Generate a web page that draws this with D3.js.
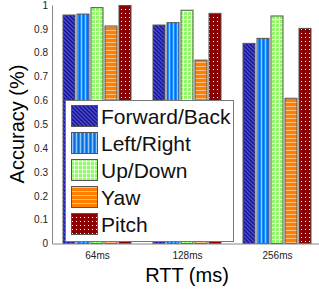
<!DOCTYPE html>
<html>
<head>
<meta charset="utf-8">
<script src="https://cdn.jsdelivr.net/npm/d3@7"></script>
<style>
  body { margin: 0; background: #fff; }
  svg { display: block; font-family: "Liberation Sans", Arial, sans-serif; }
</style>
</head>
<body>
<div id="chart"></div>
<script>
// data
var groups = ["64ms", "128ms", "256ms"];
var series = ["Forward/Back", "Left/Right", "Up/Down", "Yaw", "Pitch"];
var fwdBack   = [0.958, 0.916, 0.839];
var leftRight = [0.962, 0.926, 0.860];
var upDown    = [0.989, 0.978, 0.954];
var yaw       = [0.912, 0.769, 0.609];
var pitch     = [0.998, 0.965, 0.902];
var yTicks = [0, 0.1, 0.2, 0.3, 0.4, 0.5, 0.6, 0.7, 0.8, 0.9, 1];

var values = [fwdBack, leftRight, upDown, yaw, pitch];

var width = 319, height = 297;
var svg = d3.select("#chart").append("svg")
  .attr("width", width)
  .attr("height", height);

var defs = svg.append("defs");

// pattern fills
function pat(id, w, h, bg) {
  var p = defs.append("pattern")
    .attr("id", id)
    .attr("patternUnits", "userSpaceOnUse")
    .attr("width", w).attr("height", h);
  p.append("rect").attr("width", w).attr("height", h).attr("fill", bg);
  return p;
}
var p0 = pat("p0", 4, 4, "#16168a");
p0.append("path").attr("d", "M-1,-1 L5,5 M-1,3 L1,5 M3,-1 L5,1")
  .attr("stroke", "#4c4cd6").attr("stroke-width", 1.3);
var p1 = pat("p1", 4, 4, "#1e8cff");
p1.append("rect").attr("x", 1).attr("width", 1).attr("height", 4).attr("fill", "#8ccaff");
p1.append("rect").attr("x", 3).attr("width", 1).attr("height", 4).attr("fill", "#0a6cd8");
var p2 = pat("p2", 4, 4, "#96f56e");
p2.append("rect").attr("x", 3).attr("width", 1).attr("height", 4).attr("fill", "#e8ffe0");
p2.append("rect").attr("y", 3).attr("width", 4).attr("height", 1).attr("fill", "#e8ffe0");
var p3 = pat("p3", 4, 4, "#ff7f00");
p3.append("rect").attr("y", 2).attr("width", 4).attr("height", 1).attr("fill", "#ffbf80");
var p4 = pat("p4", 4, 4, "#8b0000");
p4.append("rect").attr("x", 1).attr("y", 1).attr("width", 1).attr("height", 1).attr("fill", "#fff");
var fills = ["url(#p0)", "url(#p1)", "url(#p2)", "url(#p3)", "url(#p4)"];

// scales: groups at 1,2,3, limits 0.5..3.5
var x = d3.scaleLinear().domain([0.5, 3.5]).range([52, 322]);
var y = d3.scaleLinear().domain([0, 1]).range([243.5, 5]);

var barW = 12, barStep = 14;

// bars
var rows = [];
groups.forEach(function(g, gi) {
  series.forEach(function(s, si) {
    rows.push({g: gi, s: si, v: values[si][gi]});
  });
});
svg.append("g").selectAll("rect")
  .data(rows)
  .enter().append("rect")
    .attr("x", function(d) { return x(d.g + 1) + (d.s - 2) * barStep - barW / 2; })
    .attr("y", function(d) { return y(d.v); })
    .attr("width", barW)
    .attr("height", function(d) { return y(0) - y(d.v); })
    .attr("fill", function(d) { return fills[d.s]; })
    .attr("stroke", "#555")
    .attr("stroke-width", 1);

// axes
var yAxis = svg.append("g")
  .attr("transform", "translate(52,0)")
  .call(d3.axisLeft(y).tickValues(yTicks).tickSize(0).tickPadding(4)
    .tickFormat(function(d) { return d === 0 || d === 1 ? String(d) : d3.format(".1f")(d); }));
yAxis.select(".domain").attr("stroke", "#888");
yAxis.selectAll("text").style("font-size", "10px").attr("fill", "#222");

var xAxis = svg.append("g")
  .attr("transform", "translate(0,243.5)")
  .call(d3.axisBottom(x).tickValues([1, 2, 3]).tickSize(0).tickPadding(8)
    .tickFormat(function(d) { return groups[d - 1]; }));
xAxis.select(".domain").attr("stroke", "#888");
xAxis.selectAll("text").style("font-size", "10px").attr("fill", "#222");

// axis titles
svg.append("text")
  .attr("x", x(2))
  .attr("y", 282)
  .attr("text-anchor", "middle")
  .style("font-size", "20px")
  .text("RTT (ms)");

svg.append("text")
  .attr("transform", "translate(24,124) rotate(-90)")
  .attr("text-anchor", "middle")
  .style("font-size", "20px")
  .text("Accuracy (%)");

// legend
var legend = svg.append("g");
legend.append("rect")
  .attr("x", 65.5).attr("y", 100.5)
  .attr("width", 168).attr("height", 141)
  .attr("fill", "#fff")
  .attr("stroke", "#777");

var item = legend.selectAll("g.item")
  .data(series)
  .enter().append("g")
    .attr("class", "item")
    .attr("transform", function(d, i) { return "translate(71," + (116 + i * 27) + ")"; });
item.append("rect")
  .attr("x", 0.5).attr("y", -10.5)
  .attr("width", 26).attr("height", 21)
  .attr("fill", function(d, i) { return fills[i]; })
  .attr("stroke", "#555");
item.append("text")
  .attr("x", 30)
  .attr("y", 7.5)
  .style("font-size", "21px")
  .attr("fill", "#111")
  .text(function(d) { return d; });
</script>
</body>
</html>
